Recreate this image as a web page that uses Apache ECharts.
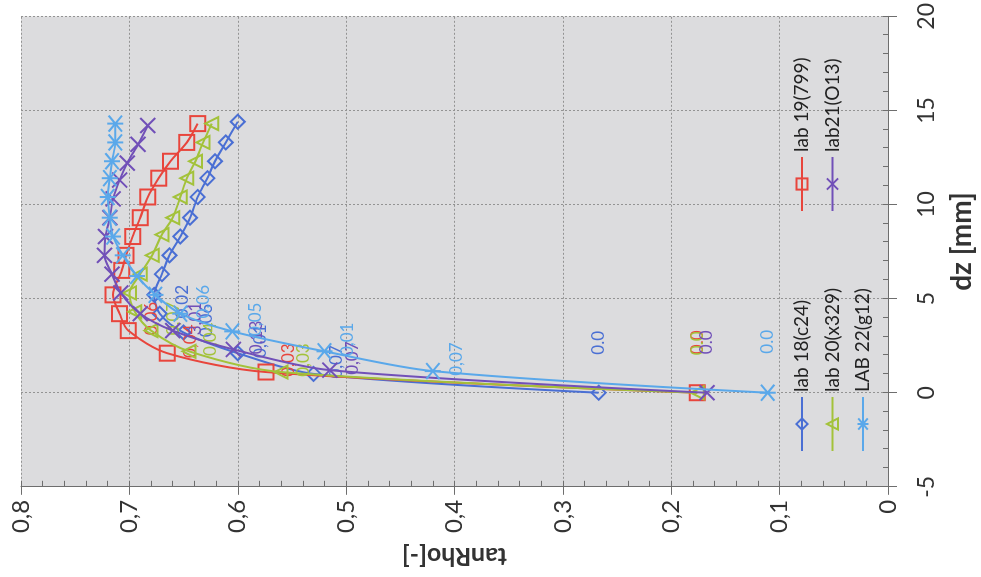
<!DOCTYPE html>
<html>
<head>
<meta charset="utf-8">
<script src="https://cdn.jsdelivr.net/npm/echarts@6/dist/echarts.min.js"></script>
<style>
html,body{margin:0;padding:0;background:#ffffff;overflow:hidden;width:981px;height:577px;}
#chart{position:absolute;left:0;top:0;width:577px;height:981px;transform-origin:0 0;transform:translate(0px,577px) rotate(-90deg);}
</style>
</head>
<body>
<div id="chart"></div>
<script>
// ---- data ----
const seriesNames = ['lab 18(c24)', 'lab 19(799)', 'lab 20(x329)', 'lab21(O13)', 'LAB 22(g12)'];

const dz18 = [0, 1.0, 2.1, 3.2, 4.2, 5.2, 6.3, 7.3, 8.3, 9.3, 10.4, 11.4, 12.3, 13.3, 14.4];
const tan18 = [0.267, 0.53, 0.60, 0.65, 0.672, 0.677, 0.670, 0.663, 0.653, 0.644, 0.637, 0.628, 0.621, 0.611, 0.600];
const lbl18 = ['0.0', '0,07', '0,01', '0,06', '0,02', '', '', '', '', '', '', '', '', '', ''];

const dz19 = [0, 1.1, 2.1, 3.3, 4.2, 5.2, 6.5, 7.3, 8.3, 9.3, 10.4, 11.4, 12.3, 13.3, 14.3];
const tan19 = [0.176, 0.574, 0.665, 0.701, 0.709, 0.715, 0.707, 0.703, 0.697, 0.690, 0.683, 0.673, 0.662, 0.647, 0.637];
const lbl19 = ['0.0', '0,03', '0,04', '0,06', '', '', '', '', '', '', '', '', '', '', ''];

const dz20 = [0, 1.1, 2.2, 3.3, 4.3, 5.3, 6.3, 7.3, 8.4, 9.3, 10.4, 11.4, 12.3, 13.3, 14.3];
const tan20 = [0.176, 0.560, 0.645, 0.680, 0.695, 0.700, 0.690, 0.679, 0.670, 0.660, 0.653, 0.647, 0.639, 0.632, 0.624];
const lbl20 = ['0.0', '0,03', '0,04', '0,07', '', '', '', '', '', '', '', '', '', '', ''];

const dz21 = [0, 1.2, 2.3, 3.3, 4.2, 5.3, 6.3, 7.3, 8.3, 9.3, 10.3, 11.3, 12.2, 13.2, 14.2];
const tan21 = [0.167, 0.515, 0.604, 0.660, 0.690, 0.708, 0.716, 0.723, 0.722, 0.718, 0.715, 0.709, 0.702, 0.692, 0.683];
const lbl21 = ['0.0', '0,07', '0,13', '3,01', '', '', '', '', '', '', '', '', '', '', ''];

const dz22 = [0, 1.15, 2.2, 3.26, 4.2, 5.2, 6.2, 7.3, 8.3, 9.3, 10.4, 11.4, 12.3, 13.3, 14.3];
const tan22 = [0.111, 0.420, 0.520, 0.605, 0.653, 0.676, 0.693, 0.706, 0.715, 0.718, 0.720, 0.718, 0.716, 0.713, 0.713];
const lbl22 = ['0.0', '0,07', '0,01', '0,05', '0,06', '', '', '', '', '', '', '', '', '', ''];

const dzTicks = [-5, 0, 5, 10, 15, 20];
const tanTicks = [0, 0.1, 0.2, 0.3, 0.4, 0.5, 0.6, 0.7, 0.8];

// ---- styles ----
const colors = ['#4a6fd4', '#e8453c', '#a3c23a', '#7150b8', '#5aa8ea'];
const XPATH = 'path://M0,0L10,10M10,0L0,10';
const STARPATH = 'path://M0,0L10,10M10,0L0,10M5,-1L5,11';
const symbols = ['diamond', 'rect', 'triangle', XPATH, STARPATH];
const symSizes = [14, 15, 13, 15, 16];
const FONT = 'Lato';

function mk(i, dzArr, tanArr, lblArr) {
  const data = dzArr.map((d, k) => {
    const item = { value: [d, tanArr[k]] };
    if (lblArr[k]) {
      item.label = {
        show: true,
        formatter: lblArr[k],
        position: k === 0 ? 'right' : 'bottom',
        distance: k === 0 ? 30 : 6,
        offset: k === 0 ? [0, 0] : [12, 0]
      };
    }
    return item;
  });
  return {
    name: seriesNames[i],
    type: 'line',
    smooth: 0.3,
    data: data,
    symbol: symbols[i],
    symbolSize: symSizes[i],
    color: colors[i],
    lineStyle: { color: colors[i], width: 2 },
    itemStyle: { color: 'rgba(0,0,0,0)', borderColor: colors[i], borderWidth: 2 },
    label: { show: false, color: colors[i], fontSize: 17, fontFamily: FONT },
    emphasis: { disabled: true },
    z: 3 + i
  };
}

const axisColor = '#6e6e6e';
const gridLine = { show: true, lineStyle: { color: '#939393', type: [2, 2], width: 1 } };

const option = {
  animation: false,
  backgroundColor: '#ffffff',
  grid: { left: 80, right: 13, top: 21, bottom: 93, show: true, backgroundColor: '#dcdcde', borderWidth: 0 },
  legend: [
    {
      data: [seriesNames[0], seriesNames[2], seriesNames[4]],
      orient: 'vertical', left: 120, top: 787,
      itemWidth: 54, itemHeight: 14, itemGap: 10.5,
      textStyle: { fontSize: 19, fontFamily: FONT, color: '#222', lineHeight: 20 }
    },
    {
      data: [seriesNames[1], seriesNames[3]],
      orient: 'vertical', left: 360, top: 787,
      itemWidth: 54, itemHeight: 14, itemGap: 10.5,
      textStyle: { fontSize: 19, fontFamily: FONT, color: '#222', lineHeight: 20 }
    }
  ],
  xAxis: [
    {
      type: 'value', min: dzTicks[0], max: dzTicks[dzTicks.length - 1], interval: 5,
      position: 'bottom',
      name: 'dz [mm]', nameLocation: 'middle', nameGap: 60,
      nameTextStyle: { fontSize: 28, fontWeight: 'bold', fontFamily: FONT, color: '#333', padding: [0, 0, 0, 20] },
      axisLine: { show: true, onZero: false, lineStyle: { color: axisColor, width: 1 } },
      axisTick: { show: true, inside: false, length: 9, lineStyle: { color: axisColor } },
      axisLabel: { fontSize: 23, fontFamily: FONT, color: '#333', margin: 27 },
      splitLine: gridLine
    },
    {
      type: 'value', min: -5, max: 20, interval: 1, position: 'bottom', offset: 0,
      axisLine: { show: false, onZero: false },
      axisTick: { show: true, inside: true, length: 5, lineStyle: { color: axisColor } },
      axisLabel: { show: false }, splitLine: { show: false }
    }
  ],
  yAxis: [
    {
      type: 'value', min: tanTicks[0], max: tanTicks[tanTicks.length - 1], interval: 0.1,
      position: 'left',
      name: 'tanRho[-]', nameLocation: 'middle', nameGap: 48, nameRotate: 90,
      nameTextStyle: { fontSize: 25, fontWeight: 'bold', fontFamily: FONT, color: '#333' },
      axisLine: { show: true, onZero: false, lineStyle: { color: axisColor, width: 1 } },
      axisTick: { show: true, inside: false, length: 8, lineStyle: { color: axisColor } },
      axisLabel: {
        fontSize: 24, fontFamily: FONT, color: '#333', margin: 13,
        formatter: v => (Math.abs(v) < 1e-9 ? '0' : v.toFixed(1).replace('.', ','))
      },
      splitLine: gridLine
    },
    {
      type: 'value', min: 0, max: 0.8, interval: 0.02, position: 'left', offset: 0,
      axisLine: { show: false, onZero: false },
      axisTick: { show: true, inside: true, length: 6, lineStyle: { color: axisColor } },
      axisLabel: { show: false }, splitLine: { show: false }
    }
  ],
  series: [
    mk(0, dz18, tan18, lbl18),
    mk(1, dz19, tan19, lbl19),
    mk(2, dz20, tan20, lbl20),
    mk(3, dz21, tan21, lbl21),
    mk(4, dz22, tan22, lbl22)
  ]
};

const chart = echarts.init(document.getElementById('chart'), null, { renderer: 'canvas' });
chart.setOption(option);
</script>
</body>
</html>
